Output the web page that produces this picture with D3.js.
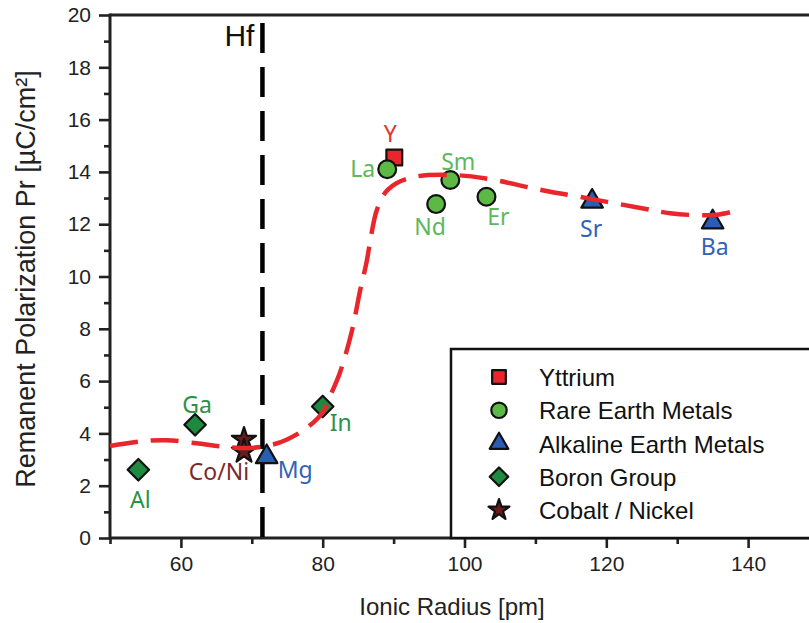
<!DOCTYPE html>
<html>
<head>
<meta charset="utf-8">
<script src="https://cdn.jsdelivr.net/npm/d3@7"></script>
<style>
  html, body { margin: 0; padding: 0; background: #fff; }
  svg { display: block; }
</style>
</head>
<body>
<svg id="chart" width="809" height="623"></svg>
<script>
// Measured dopant data: ionic radius (pm) vs remanent polarization (µC/cm²)
const elements     = ["Y", "La", "Nd", "Sm", "Er", "Mg", "Sr", "Ba", "Al", "Ga", "In", "Co", "Ni"];
const labelText    = ["Y", "La", "Nd", "Sm", "Er", "Mg", "Sr", "Ba", "Al", "Ga", "In", "Co/Ni", ""];
const ionicRadius  = [90.1, 89.1, 96.0, 98.0, 103.1, 72.1, 118.0, 135.0, 54.0, 62.0, 80.0, 68.9, 68.9];
const polarization = [14.55, 14.1, 12.77, 13.69, 13.05, 3.1, 12.87, 12.08, 2.61, 4.33, 5.03, 3.76, 3.31];
const groupOf      = ["Yttrium", "Rare Earth Metals", "Rare Earth Metals", "Rare Earth Metals", "Rare Earth Metals",
                      "Alkaline Earth Metals", "Alkaline Earth Metals", "Alkaline Earth Metals",
                      "Boron Group", "Boron Group", "Boron Group", "Cobalt / Nickel", "Cobalt / Nickel"];

// Legend order
const groupNames = ["Yttrium", "Rare Earth Metals", "Alkaline Earth Metals", "Boron Group", "Cobalt / Nickel"];

// Guide-to-the-eye trend curve
const fitRadius = [50, 54.2, 58, 62.2, 66, 69.3, 72.6, 74.9, 77.7, 80.1, 80.8, 82.4, 84.1, 85.3, 86.2, 86.8, 87.5, 88.3, 89.2, 90.4, 93.1, 98.3, 103, 111, 118.6, 125.2, 129, 133.2, 135.6, 137.8];
const fitPr     = [3.52, 3.69, 3.74, 3.62, 3.49, 3.44, 3.55, 3.76, 4.2, 4.84, 5.28, 6.3, 7.9, 9.49, 10.57, 11.52, 12.42, 12.99, 13.32, 13.57, 13.82, 13.88, 13.75, 13.3, 12.93, 12.6, 12.42, 12.34, 12.36, 12.48];

// Hafnium reference radius
const hfRadius = 71.5;

// Axis ticks
const xMajorTicks = [60, 80, 100, 120, 140];
const xMinorTicks = [50, 70, 90, 110, 130, 150];
const yMajorTicks = [0, 2, 4, 6, 8, 10, 12, 14, 16, 18, 20];
const yMinorTicks = [1, 3, 5, 7, 9, 11, 13, 15, 17, 19];

// ---- styling ----
const style = {
  "Yttrium":               { symbol: d3.symbolSquare,   size: 250, rot: 0,  fill: "#e8262b", label: "#e8302f" },
  "Rare Earth Metals":     { symbol: d3.symbolCircle,   size: 250, rot: 0,  fill: "#5cb946", label: "#5db85a" },
  "Alkaline Earth Metals": { symbol: d3.symbolTriangle, size: 200, rot: 0,  fill: "#2a5db4", label: "#3262b3" },
  "Boron Group":           { symbol: d3.symbolSquare,   size: 230, rot: 45, fill: "#1e8a3f", label: "#2b9146" },
  "Cobalt / Nickel":       { symbol: d3.symbolStar,     size: 180, rot: 0,  fill: "#6a1c1c", label: "#7a2a2a" }
};

// label placement relative to each marker (pixels): [dx, dy, anchor]
const labelPlace = {
  "Y":  [-4, -16, "middle"],
  "La": [-12, 8, "end"],
  "Nd": [-6, 31, "middle"],
  "Sm": [8, -10, "middle"],
  "Er": [12, 28, "middle"],
  "Mg": [11, 21, "start"],
  "Sr": [-1, 36, "middle"],
  "Ba": [2, 33, "middle"],
  "Al": [2, 38, "middle"],
  "Ga": [2, -12, "middle"],
  "In": [18, 25, "middle"],
  "Co": [-25, 40, "middle"],
  "Ni": [0, 0, "middle"]
};

const svg = d3.select("#chart");
const W = 809;
const plotLeft = 110, plotTop = 15, plotBottom = 538;

const x = d3.scaleLinear().domain([50, 150]).range([plotLeft, plotLeft + 709]);
const y = d3.scaleLinear().domain([0, 20]).range([plotBottom, plotTop]);

const axisFont = "'Liberation Sans', Arial, sans-serif";
const labelFont = "'Noto Sans', 'Liberation Sans', sans-serif";

// ---- axes ----
const gx = svg.append("g").attr("transform", `translate(0,${plotBottom})`);
gx.call(d3.axisBottom(x).tickValues(xMajorTicks).tickSize(10).tickPadding(8).tickFormat(d3.format("d")));
gx.append("g").call(d3.axisBottom(x).tickValues(xMinorTicks).tickSize(6).tickFormat(""));

const gy = svg.append("g").attr("transform", `translate(${plotLeft},0)`);
gy.call(d3.axisLeft(y).tickValues(yMajorTicks).tickSize(11).tickPadding(8).tickFormat(d3.format("d")));
gy.append("g").call(d3.axisLeft(y).tickValues(yMinorTicks).tickSize(6).tickFormat(""));

[gx, gy].forEach(g => {
  g.selectAll(".domain").remove();
  g.selectAll("line").attr("stroke", "#222").attr("stroke-width", 2.6);
  g.selectAll("text").attr("font-family", axisFont).attr("font-size", 21).attr("fill", "#222");
});

// frame lines: left, bottom, top
svg.append("line").attr("x1", plotLeft).attr("x2", plotLeft).attr("y1", plotTop - 1.5).attr("y2", plotBottom + 1.5)
  .attr("stroke", "#222").attr("stroke-width", 3);
svg.append("line").attr("x1", plotLeft).attr("x2", W + 10).attr("y1", plotBottom).attr("y2", plotBottom)
  .attr("stroke", "#222").attr("stroke-width", 3);
svg.append("line").attr("x1", plotLeft).attr("x2", W + 10).attr("y1", plotTop).attr("y2", plotTop)
  .attr("stroke", "#222").attr("stroke-width", 3);

// axis titles
svg.append("text")
  .attr("x", 452).attr("y", 615)
  .attr("text-anchor", "middle")
  .attr("font-family", axisFont).attr("font-size", 24).attr("fill", "#222")
  .text("Ionic Radius [pm]");

svg.append("text")
  .attr("transform", "translate(35,279) rotate(-90)")
  .attr("text-anchor", "middle")
  .attr("font-family", axisFont).attr("font-size", 27).attr("fill", "#222")
  .text("Remanent Polarization Pr [µC/cm²]");

// ---- Hf reference line ----
svg.append("line")
  .attr("x1", x(hfRadius)).attr("x2", x(hfRadius))
  .attr("y1", 23).attr("y2", plotBottom)
  .attr("stroke", "#000").attr("stroke-width", 4.5)
  .attr("stroke-dasharray", "30,14");
svg.append("text")
  .attr("x", x(hfRadius) - 8).attr("y", 46)
  .attr("text-anchor", "end")
  .attr("font-family", axisFont).attr("font-size", 30).attr("fill", "#111")
  .text("Hf");

// ---- data points ----
const pts = elements.map((e, i) => ({
  name: e, label: labelText[i], r: ionicRadius[i], p: polarization[i], group: groupOf[i]
}));

svg.append("g").selectAll("path")
  .data(pts)
  .join("path")
  .attr("transform", d => `translate(${x(d.r)},${y(d.p)}) rotate(${style[d.group].rot})`)
  .attr("d", d => d3.symbol(style[d.group].symbol, style[d.group].size)())
  .attr("fill", d => style[d.group].fill)
  .attr("stroke", "#111")
  .attr("stroke-width", 2.2)
  .attr("stroke-linejoin", "round");

// ---- trend curve ----
const fit = fitRadius.map((r, i) => [r, fitPr[i]]);
svg.append("path")
  .datum(fit)
  .attr("d", d3.line().x(d => x(d[0])).y(d => y(d[1])).curve(d3.curveCatmullRom.alpha(0.5)))
  .attr("fill", "none")
  .attr("stroke", "#e8262b")
  .attr("stroke-width", 4.5)
  .attr("stroke-dasharray", "28,13");

// ---- point labels ----
svg.append("g").selectAll("text")
  .data(pts.filter(d => d.label))
  .join("text")
  .attr("x", d => x(d.r) + labelPlace[d.name][0])
  .attr("y", d => y(d.p) + labelPlace[d.name][1])
  .attr("text-anchor", d => labelPlace[d.name][2])
  .attr("font-family", labelFont)
  .attr("font-size", 23)
  .attr("fill", d => style[d.group].label)
  .text(d => d.label);

// ---- legend ----
const lg = svg.append("g");
lg.append("rect")
  .attr("x", 451).attr("y", 349).attr("width", 420).attr("height", plotBottom - 349)
  .attr("fill", "#fff").attr("stroke", "#111").attr("stroke-width", 2.5);

const rowY = d3.scalePoint().domain(groupNames).range([377, 510]);
const rows = lg.selectAll("g.row").data(groupNames).join("g")
  .attr("class", "row")
  .attr("transform", d => `translate(0,${rowY(d)})`);
rows.append("path")
  .attr("transform", d => `translate(499,0) rotate(${style[d].rot})`)
  .attr("d", d => d3.symbol(style[d].symbol, style[d].size * 0.75)())
  .attr("fill", d => style[d].fill)
  .attr("stroke", "#111").attr("stroke-width", 2.2).attr("stroke-linejoin", "round");
rows.append("text")
  .attr("x", 539).attr("y", 9)
  .attr("font-family", axisFont).attr("font-size", 24).attr("fill", "#111")
  .text(d => d);
</script>
</body>
</html>
